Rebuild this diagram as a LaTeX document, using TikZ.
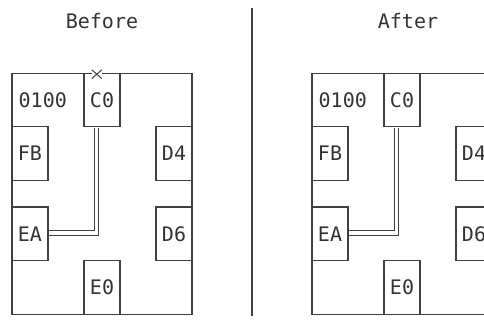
\documentclass[tikz,border=0pt]{standalone}
\usepackage{fontspec}
\setmonofont{DejaVu Sans Mono}
\begin{document}
\begin{tikzpicture}[x=1pt,y=-1pt,
  every node/.style={font=\ttfamily\fontsize{20}{20}\selectfont, text=black!80},
  lw/.style={line width=1.1pt, draw=black!75},
  board/.style={lw, rectangle, inner sep=0pt, minimum width=180pt, minimum height=241.2pt},
  chip/.style={lw, rectangle, inner sep=0pt, minimum width=36pt, minimum height=53.6pt},
  label/.style={inner sep=0pt},
  bus/.style={double, double distance=3.4pt, line width=1pt, draw=black!75, shorten <=0.6pt, shorten >=0.6pt}
]
\useasboundingbox (0,0) rectangle (484,322);
\clip (0,0) rectangle (484,322);

% titles
\node[label] (tb) at (102,21.3) {Before};
\node[label] (ta) at (408,21.3) {After};

% divider
\coordinate (dtop) at (252,8);
\coordinate (dbot) at (252,316);
\draw[lw] (dtop) -- (dbot);

% ---------- Before ----------
\node[board] (bB) at (102,193.7) {};
\node[chip] (bC0) at (102,100) {C0};
\node[chip] (bFB) at (30,153.4) {FB};
\node[chip] (bD4) at (174,153.4) {D4};
\node[chip] (bEA) at (30,233.8) {EA};
\node[chip] (bD6) at (174,233.8) {D6};
\node[chip] (bE0) at (102,287.4) {E0};
\node[label, anchor=west] (b0100) at (18.5,100) {0100};
\draw[bus] ([xshift=-5.5pt]bC0.south) |- ([yshift=0.7pt]bEA.east);
% cut mark
\node[fill=white, inner sep=0pt, minimum width=9.6pt, minimum height=8.4pt] (bx) at (96.8,74.2) {};
\draw[line width=1pt, draw=black!75] (bx.north west) -- (bx.south east);
\draw[line width=1pt, draw=black!75] (bx.south west) -- (bx.north east);

% ---------- After ----------
\node[board] (aB) at (402,193.7) {};
\node[chip] (aC0) at (402,100) {C0};
\node[chip] (aFB) at (330,153.4) {FB};
\node[chip] (aD4) at (474,153.4) {D4};
\node[chip] (aEA) at (330,233.8) {EA};
\node[chip] (aD6) at (474,233.8) {D6};
\node[chip] (aE0) at (402,287.4) {E0};
\node[label, anchor=west] (a0100) at (318.5,100) {0100};
\draw[bus] ([xshift=-5.5pt]aC0.south) |- ([yshift=0.7pt]aEA.east);
\end{tikzpicture}
\end{document}
